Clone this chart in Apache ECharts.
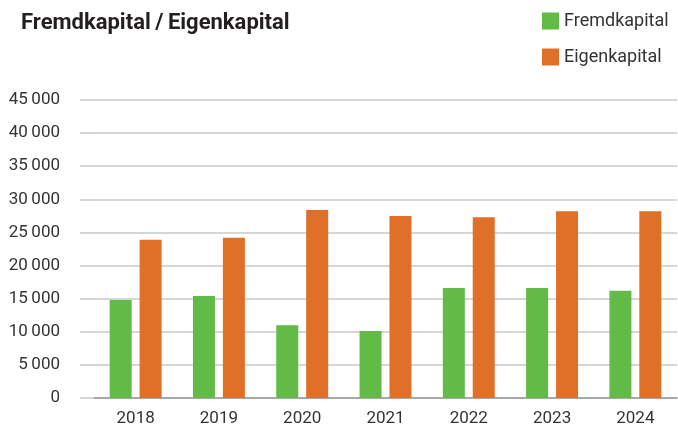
<!DOCTYPE html>
<html>
<head>
<meta charset="utf-8">
<script src="https://cdn.jsdelivr.net/npm/echarts@6/dist/echarts.min.js"></script>
<style>
  html, body { margin: 0; padding: 0; background: #fff; }
  #chart { width: 678px; height: 430px; }
</style>
</head>
<body>
<div id="chart"></div>
<script>
// Jahre
const years = ['2018', '2019', '2020', '2021', '2022', '2023', '2024'];
// Werte
const fremdkapital = [14800, 15400, 11000, 10100, 16600, 16600, 16200];
const eigenkapital = [23900, 24200, 28400, 27500, 27300, 28200, 28200];
const seriesNames = ['Fremdkapital', 'Eigenkapital'];

const font = 'Roboto, "DejaVu Sans Condensed", sans-serif';

const chart = echarts.init(document.getElementById('chart'));

const option = {
  animation: false,
  color: ['#62bb47', '#e07028'],
  title: {
    text: 'Fremdkapital\u2009/\u2009Eigenkapital',
    left: 16, top: 7,
    textStyle: { fontFamily: font, fontWeight: 'bold', fontSize: 22, color: '#231f20' }
  },
  legend: {
    orient: 'vertical',
    left: 537, top: 7,
    itemWidth: 17, itemHeight: 17, itemGap: 18,
    icon: 'rect',
    data: seriesNames,
    textStyle: { fontFamily: font, fontSize: 18, color: '#333' }
  },
  grid: { left: 94, right: 1, top: 100, bottom: 32, containLabel: false },
  xAxis: {
    type: 'category',
    data: years,
    axisLine: { lineStyle: { color: '#999', width: 1.5 } },
    axisTick: { show: false },
    axisLabel: { fontFamily: font, fontSize: 17, color: '#333', margin: 12 }
  },
  yAxis: {
    type: 'value',
    min: 0, max: 45000, interval: 5000,
    axisLine: { show: false },
    axisTick: { show: true, length: 14, lineStyle: { color: '#c8c8c8', width: 1.5 } },
    splitLine: { lineStyle: { color: '#c8c8c8', width: 1.5 } },
    axisLabel: {
      fontFamily: font, fontSize: 17, color: '#333', margin: 34,
      formatter: v => v >= 1000 ? Math.floor(v / 1000) + '\u2009' + String(v % 1000).padStart(3, '0') : String(v)
    }
  },
  series: [
    { name: seriesNames[0], type: 'bar', data: fremdkapital, barWidth: 22, barGap: '36%' },
    { name: seriesNames[1], type: 'bar', data: eigenkapital, barWidth: 22, barGap: '36%' }
  ]
};

option && chart.setOption(option);
</script>
</body>
</html>
